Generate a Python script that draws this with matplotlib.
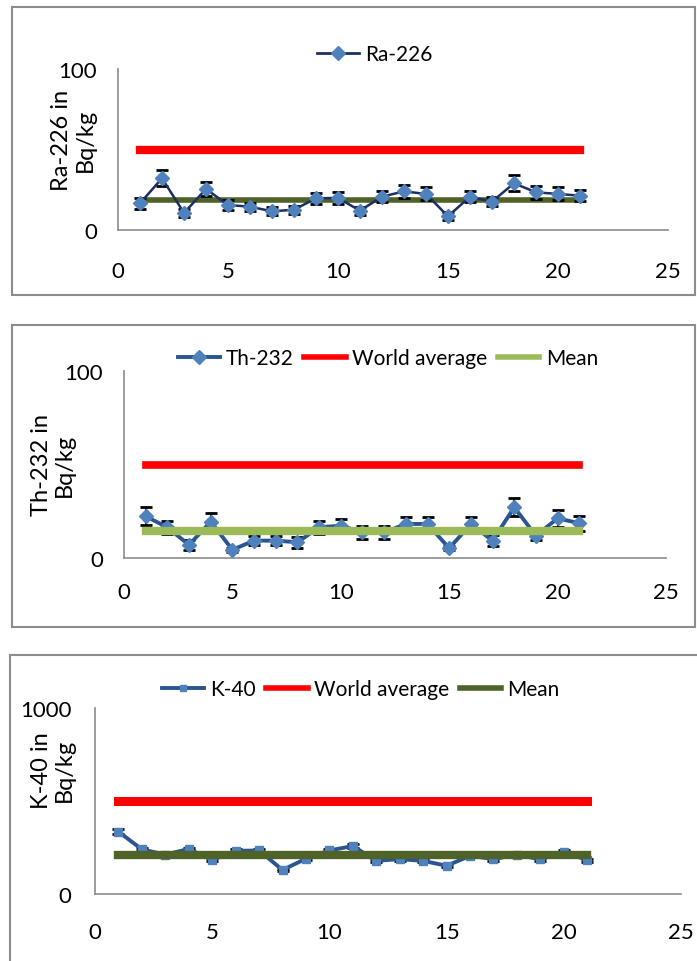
import matplotlib.pyplot as plt
from matplotlib.patches import Rectangle
from matplotlib.lines import Line2D

plt.rcParams['font.family'] = ['Lato', 'DejaVu Sans']

# sample numbers
samples = list(range(1, 22))

# Ra-226 (Bq/kg)
ra = [16.6, 32.1, 10.6, 25.5, 15.5, 14.5, 11.6, 12.6, 19.7, 19.9, 12.0,
      20.7, 24.0, 22.4, 8.5, 20.7, 17.6, 29.0, 23.4, 22.4, 21.3]
ra_err = [3.5, 5, 2.5, 4.5, 3, 2.5, 2.5, 2.5, 3.5, 3.5, 2.5,
          3.5, 4, 4, 2.5, 3.5, 3, 5, 4, 4, 3.5]
ra_world = 50
ra_mean = 18.8

# Th-232 (Bq/kg)
th = [22.3, 16.4, 7.0, 19.4, 4.4, 9.3, 9.3, 8.4, 16.4, 17.3, 13.7,
      13.7, 18.2, 18.2, 5.2, 18.2, 9.3, 27.1, 11.9, 21.2, 18.6]
th_err = [4.8, 3.5, 2.5, 4.5, 1, 2.5, 2.5, 3, 3.5, 3.5, 3.5,
          3.5, 3.5, 3.5, 1, 3.5, 3, 4.8, 2.5, 4.5, 4]
th_world = 50
th_mean = 14.3

# K-40 (Bq/kg)
k40 = [335, 240, 212, 242, 183, 232, 234, 129, 190, 234, 258,
       178, 188, 178, 152, 205, 188, 210, 187, 226, 182]
k40_err = [14, 8, 8, 8, 8, 8, 8, 8, 8, 8, 10,
           8, 8, 8, 8, 8, 8, 8, 8, 8, 8]
k40_world = 500
k40_mean = 210

W, H = 697, 962
FS = 16
LFS = 15
fig = plt.figure(figsize=(W / 100, H / 100), dpi=100)


def px_axes(left, top, right, bottom):
    return fig.add_axes([left / W, 1 - bottom / H, (right - left) / W, (bottom - top) / H])


def frame(left, top, right, bottom):
    fig.patches.append(Rectangle((left / W, 1 - bottom / H), (right - left) / W, (bottom - top) / H,
                                 transform=fig.transFigure, fill=False,
                                 edgecolor='#8c8c8c', linewidth=1.5))


def style(ax, ymax, xpad, ypad):
    ax.set_xlim(0, 25)
    ax.set_ylim(0, ymax)
    ax.set_xticks([0, 5, 10, 15, 20, 25])
    ax.set_yticks([0, ymax])
    for s in ['top', 'right']:
        ax.spines[s].set_visible(False)
    for s in ['left', 'bottom']:
        ax.spines[s].set_color('#8c8c8c')
        ax.spines[s].set_linewidth(1.2)
    ax.tick_params(axis='x', length=0, pad=xpad, labelsize=FS)
    ax.tick_params(axis='y', length=0, pad=ypad, labelsize=FS)
    ax.patch.set_alpha(0)


# frames around each chart
frame(12, 8, 695, 296)
frame(12, 326, 695, 628)
frame(10, 656, 700, 975)

# ---- Ra-226 ----
ax1 = px_axes(118, 70, 668, 231)
ax1.plot([samples[0], samples[-1]], [ra_world, ra_world], color='#ff0000', lw=6, zorder=1)
ax1.plot([samples[0], samples[-1]], [ra_mean, ra_mean], color='#4f6228', lw=4, zorder=2)
ax1.errorbar(samples, ra, yerr=ra_err, fmt='none', ecolor='black', elinewidth=1.5,
             capsize=4, capthick=2, zorder=3)
ax1.plot(samples, ra, color='#1c2e64', lw=1.8, marker='D', markersize=7,
         markerfacecolor='#4f81bd', markeredgecolor='#4f81bd', zorder=4)
style(ax1, 100, 22, 15)
ax1.set_ylabel('Ra-226 in\nBq/kg', fontsize=FS + 1, linespacing=1.15)
ax1.yaxis.set_label_coords(-0.04, 0.565)
ax1.legend([Line2D([], [], color='#1c2e64', lw=2, marker='D', markersize=7,
                   markerfacecolor='#4f81bd', markeredgecolor='#4f81bd')],
           ['Ra-226'], loc='center', bbox_to_anchor=(375 / W, 1 - 55 / H),
           bbox_transform=fig.transFigure, frameon=False, fontsize=LFS,
           handlelength=2.0, handletextpad=0.3)

# ---- Th-232 ----
ax2 = px_axes(124, 372, 666, 559)
ax2.plot([samples[0], samples[-1]], [th_world, th_world], color='#ff0000', lw=5.5, zorder=1)
ax2.errorbar(samples, th, yerr=th_err, fmt='none', ecolor='black', elinewidth=1.5,
             capsize=4, capthick=2, zorder=2)
ax2.plot(samples, th, color='#2a5592', lw=2.8, marker='D', markersize=7,
         markerfacecolor='#4f81bd', markeredgecolor='#4f81bd', zorder=3)
ax2.plot([samples[0], samples[-1]], [th_mean, th_mean], color='#9bbb59', lw=6, zorder=4)
style(ax2, 100, 17, 15)
ax2.set_ylabel('Th-232 in\nBq/kg', fontsize=FS + 1, linespacing=1.15)
ax2.yaxis.set_label_coords(-0.09, 0.5)
ax2.legend([Line2D([], [], color='#2a5592', lw=2.8, marker='D', markersize=7,
                   markerfacecolor='#4f81bd', markeredgecolor='#4f81bd'),
            Line2D([], [], color='#ff0000', lw=4),
            Line2D([], [], color='#9bbb59', lw=4)],
           ['Th-232', 'World average', 'Mean'], loc='center', ncol=3,
           bbox_to_anchor=(388 / W, 1 - 359 / H), bbox_transform=fig.transFigure,
           frameon=False, fontsize=LFS, handlelength=2.0, handletextpad=0.3,
           columnspacing=0.5)

# ---- K-40 ----
ax3 = px_axes(95, 709, 681, 895)
ax3.plot([samples[0], samples[-1]], [k40_world, k40_world], color='#ff0000', lw=6.5, zorder=1)
ax3.errorbar(samples, k40, yerr=k40_err, fmt='none', ecolor='black', elinewidth=1.5,
             capsize=4, capthick=2, zorder=2)
ax3.plot(samples, k40, color='#2a5592', lw=2.8, marker='s', markersize=5.5,
         markerfacecolor='#4f81bd', markeredgecolor='#4f81bd', zorder=3)
ax3.plot([samples[0], samples[-1]], [k40_mean, k40_mean], color='#4f6228', lw=6, zorder=4)
style(ax3, 1000, 20, 17)
ax3.set_ylabel('K-40 in\nBq/kg', fontsize=FS + 1, linespacing=1.15)
ax3.yaxis.set_label_coords(-0.034, 0.67)
ax3.legend([Line2D([], [], color='#2a5592', lw=2.8, marker='s', markersize=4,
                   markerfacecolor='#4f81bd', markeredgecolor='#4f81bd'),
            Line2D([], [], color='#ff0000', lw=4),
            Line2D([], [], color='#4f6228', lw=4)],
           ['K-40', 'World average', 'Mean'], loc='center', ncol=3,
           bbox_to_anchor=(361 / W, 1 - 690 / H), bbox_transform=fig.transFigure,
           frameon=False, fontsize=LFS, handlelength=2.0, handletextpad=0.3,
           columnspacing=0.5)

fig.savefig('out.png', dpi=100)
